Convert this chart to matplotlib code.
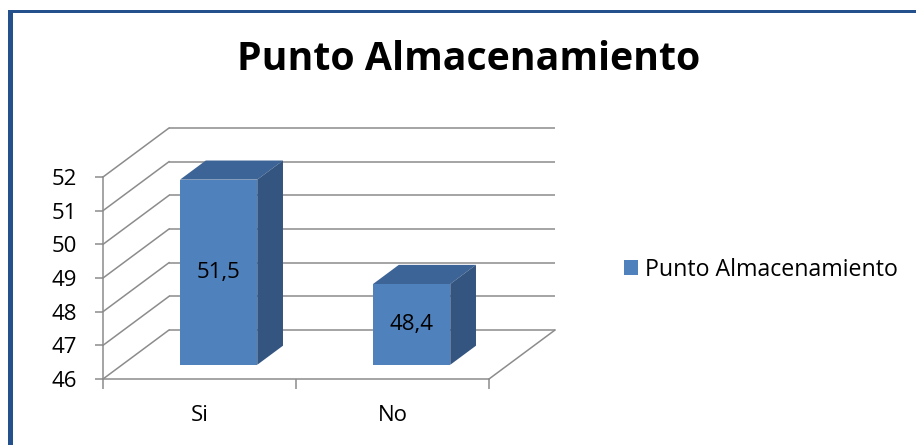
import matplotlib
matplotlib.use("Agg")
import matplotlib.pyplot as plt
from matplotlib.patches import Polygon, Patch, Rectangle
import numpy as np

# --- data -------------------------------------------------------------
categories = ["Si", "No"]
values = [51.5, 48.4]
value_labels = ["51,5", "48,4"]
series_name = "Punto Almacenamiento"
title = "Punto Almacenamiento"
y_ticks = [46, 47, 48, 49, 50, 51, 52]

# --- style ------------------------------------------------------------
FONT = "Open Sans"
FRONT = "#4F81BD"
TOP = "#3D6496"
SIDE = "#345580"
GRID = "#8C8C8C"
FRAME = "#24508C"

Y_MIN, Y_MAX = 46, 52
DX, DY = 0.342, 1.455          # depth of the 3-D box in data units
BAR_FRONT, BAR_BACK = 0.29, 0.68  # depth fractions where bars sit
BAR_W = 0.40

W, H = 916, 445
fig = plt.figure(figsize=(W / 100, H / 100), dpi=100)
fig.patch.set_facecolor("white")

ax = fig.add_axes([103 / W, 66 / H, 386 / W, 202 / H])
ax.set_xlim(-0.5, len(categories) - 0.5)
ax.set_ylim(Y_MIN, Y_MAX)
ax.set_facecolor("none")
for s in ("top", "right"):
    ax.spines[s].set_visible(False)
for s in ("left", "bottom"):
    ax.spines[s].set_color(GRID)
    ax.spines[s].set_linewidth(1.1)

x = np.arange(len(categories))
x0, x1 = -0.5, len(categories) - 0.5

# walls: back-wall gridlines and left-wall diagonals
for t in y_ticks:
    ax.plot([x0 + DX, x1 + DX], [t + DY, t + DY], color=GRID, lw=1.1,
            clip_on=False, zorder=1, solid_capstyle="butt")
    ax.plot([x0, x0 + DX], [t, t + DY], color=GRID, lw=1.1,
            clip_on=False, zorder=1)
# floor right edge
ax.plot([x1, x1 + DX], [Y_MIN, Y_MIN + DY], color=GRID, lw=1.1,
        clip_on=False, zorder=1)


def depth(px, py, f):
    return (px + f * DX, py + f * DY)


# bars: front faces via ax.bar, top and side faces as polygons
heights = [v - Y_MIN for v in values]
ax.bar(x + BAR_FRONT * DX, heights, width=BAR_W,
       bottom=Y_MIN + BAR_FRONT * DY, color=FRONT, zorder=3,
       clip_on=False, linewidth=0)
for xi, v, lab in zip(x, values, value_labels):
    l, r = xi - BAR_W / 2, xi + BAR_W / 2
    top = [depth(l, v, BAR_FRONT), depth(r, v, BAR_FRONT),
           depth(r, v, BAR_BACK), depth(l, v, BAR_BACK)]
    side = [depth(r, Y_MIN, BAR_FRONT), depth(r, v, BAR_FRONT),
            depth(r, v, BAR_BACK), depth(r, Y_MIN, BAR_BACK)]
    ax.add_patch(Polygon(top, closed=True, facecolor=TOP, edgecolor="none",
                         zorder=3, clip_on=False))
    ax.add_patch(Polygon(side, closed=True, facecolor=SIDE, edgecolor="none",
                         zorder=3, clip_on=False))
    cx, cy = depth(xi, (Y_MIN + v) / 2, BAR_FRONT)
    ax.text(cx, cy, lab, ha="center", va="center", fontsize=16,
            family=FONT, color="black", zorder=4)

# axes ticks
ax.set_yticks(y_ticks)
ax.set_yticklabels([str(t) for t in y_ticks], family=FONT, fontsize=16)
ax.tick_params(axis="y", length=6, width=1.1, color=GRID, pad=13)
ax.set_xticks(np.arange(len(categories) + 1) - 0.5)
ax.set_xticklabels([])
ax.tick_params(axis="x", which="major", length=7, width=1.1, color=GRID)
ax.set_xticks(x, minor=True)
ax.set_xticklabels(categories, minor=True, family=FONT, fontsize=16)
ax.tick_params(axis="x", which="minor", length=0, pad=19)

# title
fig.text(469 / W, 1 - 60 / H, title, ha="center", va="center",
         fontsize=28.3, fontweight="bold", family=FONT, color="black")

# legend
fig.legend(handles=[Patch(facecolor=FRONT, edgecolor="none", label=series_name)],
           loc="center left", bbox_to_anchor=(624 / W, 1 - 270 / H),
           frameon=False, prop={"family": FONT, "size": 16.7},
           handlelength=0.6, handleheight=0.6, handletextpad=0.3,
           borderpad=0, borderaxespad=0)

# chart frame (top and left edges)
fig.add_artist(Rectangle((8 / W, 0), 5 / W, 1 - 10 / H,
                         transform=fig.transFigure, color=FRAME, lw=0))
fig.add_artist(Rectangle((8 / W, 1 - 13 / H), 1, 3 / H,
                         transform=fig.transFigure, color=FRAME, lw=0))

fig.savefig("out.png", dpi=100)
